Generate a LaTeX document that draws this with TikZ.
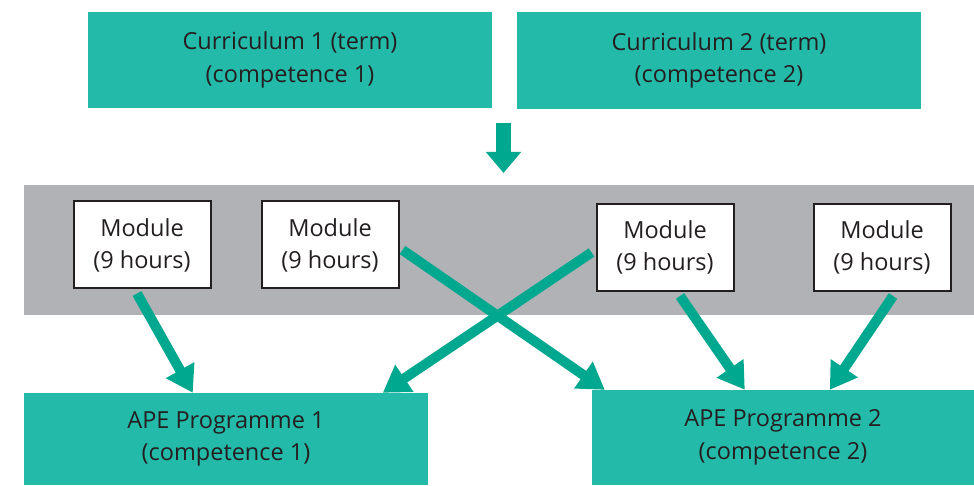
\documentclass[tikz,border=0pt]{standalone}
\usepackage{fontspec}
\setmainfont{Open Sans}
\usetikzlibrary{arrows.meta,calc}
\definecolor{boxteal}{HTML}{23BAAA}
\definecolor{arrteal}{HTML}{00A88F}
\definecolor{bandgray}{HTML}{B1B2B5}
\definecolor{txt}{HTML}{231F20}
\tikzset{
  tealbox/.style={fill=boxteal,minimum width=404pt,minimum height=96pt,align=center,text=txt,inner sep=0pt,
    font=\fontsize{23.5}{32.5}\selectfont},
  modbox/.style={fill=white,draw=txt,line width=2pt,minimum width=137pt,minimum height=87pt,align=center,text=txt,inner sep=0pt,
    font=\fontsize{23.5}{32}\selectfont},
  flowarrow/.style={draw=arrteal,line width=10pt,-{Triangle[width=31pt,length=26pt]}},
}
\begin{document}
\begin{tikzpicture}[x=1pt,y=1pt]
\useasboundingbox (0,0) rectangle (974,485);
\node[tealbox] (cur1) at (290,425) {Curriculum 1 (term)\\(competence 1)};
\node[tealbox,minimum height=97pt] (cur2) at (719,424.5) {Curriculum 2 (term)\\(competence 2)};
\node[fill=bandgray,minimum width=950pt,minimum height=130pt,inner sep=0pt] (band) at (499,235) {};
\node[modbox] (m1) at (142,240) {Module\\(9 hours)};
\node[modbox] (m2) at (330,240) {Module\\(9 hours)};
\node[modbox] (m3) at (665,237.5) {Module\\(9 hours)};
\node[modbox] (m4) at (882,237.5) {Module\\(9 hours)};
\node[tealbox,minimum height=92pt] (ape1) at (226,46) {APE Programme 1\\(competence 1)};
\node[tealbox,minimum width=382pt,minimum height=95pt] (ape2) at (783,47.5) {APE Programme 2\\(competence 2)};
% down arrow
\coordinate (dtop) at (503.5,362);
\coordinate (dtip) at (503.5,312);
\draw[draw=arrteal,line width=15pt,-{Triangle[width=34pt,length=21pt]}] (dtop) -- (dtip);
% module arrows
\draw[flowarrow] ($(m1.south)+(-5,-4)$) -- ($(ape1.north west)+(169,0)$);
\draw[flowarrow] ($(m2.east)+(3,-5)$) -- ($(ape2.north west)+(13,0)$);
\draw[flowarrow] ($(m3.west)+(-4,-5)$) -- ($(ape1.north west)+(359,0)$);
\draw[flowarrow] ($(m3.south)+(15,-4)$) -- ($(ape2.north west)+(153,0)$);
\draw[flowarrow] ($(m4.south)+(11,-4)$) -- ($(ape2.north west)+(238,0)$);
\end{tikzpicture}
\end{document}
